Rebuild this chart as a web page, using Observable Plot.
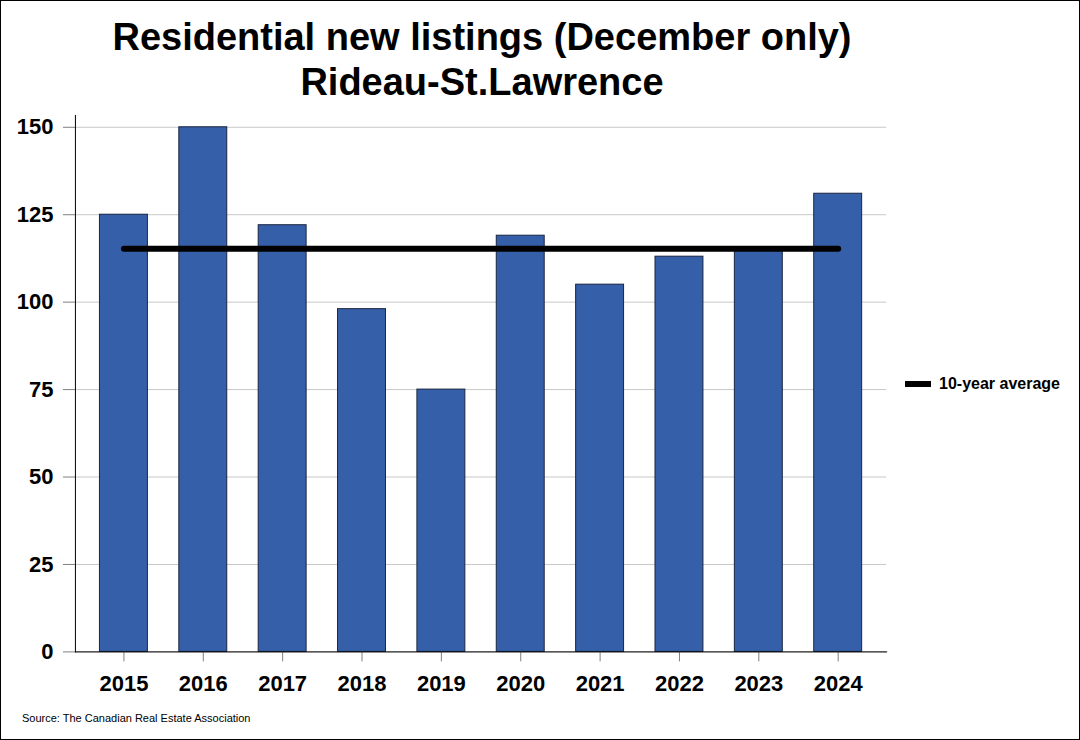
<!DOCTYPE html>
<html>
<head>
<meta charset="utf-8">
<script src="https://cdn.jsdelivr.net/npm/d3@7"></script>
<script src="https://cdn.jsdelivr.net/npm/@observablehq/plot@0.6"></script>
<style>
  html, body { margin: 0; padding: 0; background: #fff; }
  #wrap { position: relative; width: 1080px; height: 740px; box-sizing: border-box; border: 1px solid #000; overflow: hidden; font-family: "Liberation Sans", Arial, sans-serif; }
  #chart { position: absolute; left: -1px; top: -1px; }
  #title { position: absolute; left: 0; width: 962px; top: 14px; text-align: center; font-weight: bold; font-size: 38px; line-height: 45px; color: #000; }
  #legend { position: absolute; left: 904px; top: 373px; height: 20px; font-size: 16px; font-weight: bold; display: flex; align-items: center; }
  #legend .sw { width: 26px; height: 6px; background: #000; margin-right: 8px; }
  #source { position: absolute; left: 21px; top: 711px; font-size: 11px; color: #000; }
</style>
</head>
<body>
<div id="wrap">
  <div id="chart"></div>
  <div id="title">Residential new listings (December only)<br>Rideau-St.Lawrence</div>
  <div id="legend"><div class="sw"></div><span>10-year average</span></div>
  <div id="source">Source: The Canadian Real Estate Association</div>
</div>
<script>
const years = [2015, 2016, 2017, 2018, 2019, 2020, 2021, 2022, 2023, 2024];
const listings = [125, 150, 122, 98, 75, 119, 105, 113, 115, 131];
const yTicks = [0, 25, 50, 75, 100, 125, 150];

const data = years.map((y, i) => ({year: String(y), value: listings[i]}));
const avg = d3.mean(listings);
const avgLine = [{year: String(years[0]), value: avg}, {year: String(years[years.length - 1]), value: avg}];

const chart = Plot.plot({
  width: 1080,
  height: 740,
  marginLeft: 75,
  marginRight: 193,
  marginTop: 115,
  marginBottom: 88,
  style: {fontFamily: "'Liberation Sans', Arial, sans-serif", fontSize: "22px", fontWeight: "bold", background: "transparent", color: "#000"},
  x: {domain: years.map(String), paddingInner: 0.396, paddingOuter: 0.309, round: false, label: null},
  y: {domain: [0, 153.4], label: null},
  marks: [
    Plot.gridY(yTicks, {stroke: "#c8c8c8", strokeOpacity: 1}),
    Plot.barY(data, {x: "year", y: "value", fill: "#365fa9", stroke: "#1a2540", strokeWidth: 1}),
    Plot.line(avgLine, {x: "year", y: "value", stroke: "#000", strokeWidth: 6}),
    Plot.axisY({ticks: yTicks, tickSize: 12, tickPadding: 10, stroke: "#808080", fill: "#000", label: null}),
    Plot.axisX({tickSize: 10, tickPadding: 14, stroke: "#808080", fill: "#000", label: null}),
    Plot.frame({anchor: "left", stroke: "#000"}),
    Plot.frame({anchor: "bottom", stroke: "#000"})
  ]
});
document.getElementById("chart").appendChild(chart);
</script>
</body>
</html>
